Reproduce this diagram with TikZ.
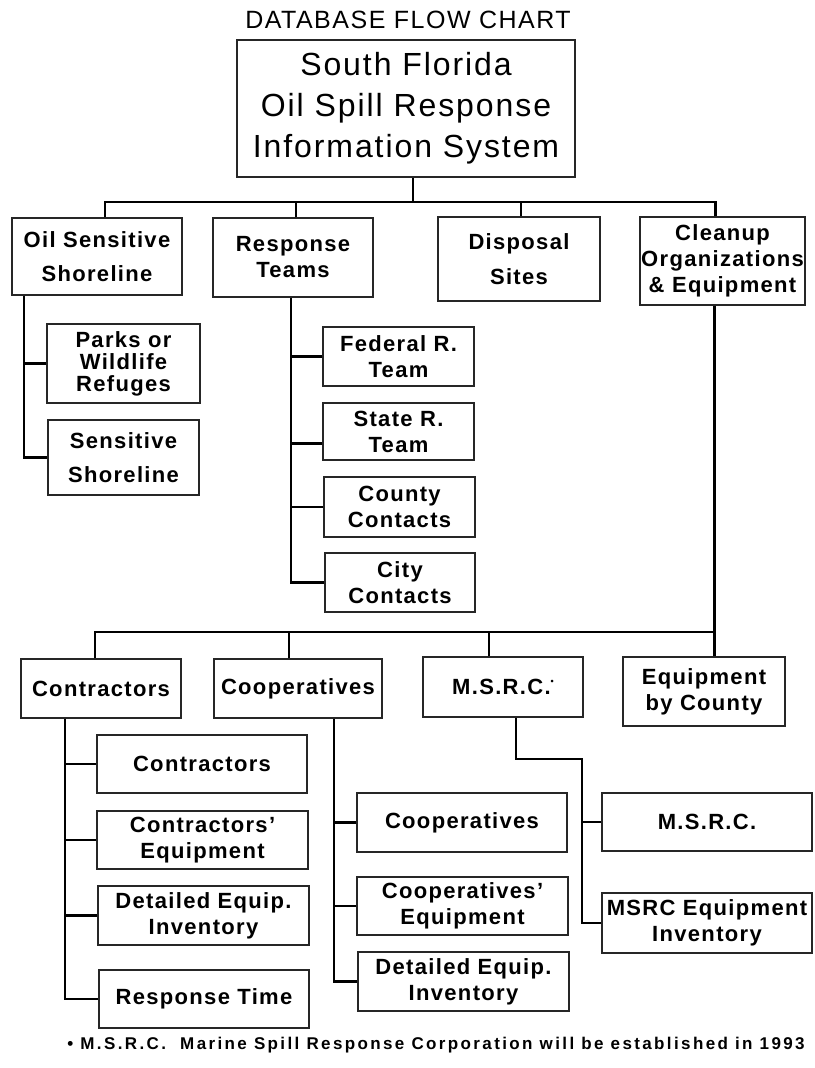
\documentclass[tikz,border=0pt]{standalone}
\usepackage{fontspec}
\setmainfont{Liberation Sans}[LetterSpace=6]
\usetikzlibrary{calc}

\begin{document}
\begin{tikzpicture}[x=1pt,y=-1pt,
	box/.style={draw=black!85,line width=1.3pt,align=center,inner sep=0pt,font=\fontsize{22}{26}\selectfont\bfseries},
	link/.style={line width=2.8pt,black}]
		\useasboundingbox (0,0) rectangle (814,1068);
		\node[font=\fontsize{25}{28}\selectfont] (title) at (408,20) {DATABASE FLOW CHART};
		\node[box,font=\fontsize{32}{41}\selectfont,minimum width=338pt,minimum height=137pt] (sfo) at (406,108.5) {South Florida\\Oil Spill Response\\Information System};

		\node[box,minimum width=170pt,minimum height=77pt] (oil) at (97,256.5) {Oil Sensitive\\[8pt]Shoreline};
		\node[box,minimum width=160pt,minimum height=79pt] (resp) at (293,257.5) {Response\\Teams};
		\node[box,minimum width=162pt,minimum height=84pt] (disp) at (519,259) {Disposal\\[9pt]Sites};
		\node[box,minimum width=165pt,minimum height=88pt] (clean) at (722.5,261) {Cleanup\\Organizations\\\& Equipment};

		\node[box,minimum width=153pt,minimum height=79pt] (parks) at (123.5,363.5) {Parks or\\[-4pt]Wildlife\\[-4pt]Refuges};
		\node[box,minimum width=151pt,minimum height=75pt] (sshore) at (123.5,457.5) {Sensitive\\[8pt]Shoreline};
		\node[box,minimum width=151pt,minimum height=59pt] (fed) at (398.5,356.5) {Federal R.\\Team};
		\node[box,minimum width=151pt,minimum height=57pt] (state) at (398.5,431.5) {State R.\\Team};
		\node[box,minimum width=151pt,minimum height=60pt] (county) at (399.5,507) {County\\Contacts};
		\node[box,minimum width=150pt,minimum height=59pt] (city) at (400,582.5) {City\\Contacts};

		\node[box,minimum width=160pt,minimum height=59pt] (ctr) at (101,688.5) {Contractors};
		\node[box,minimum width=168pt,minimum height=59pt] (coop) at (298,688.5) {Cooperatives};
		\node[box,minimum width=160pt,minimum height=60pt] (msrc) at (503,687) {M.S.R.C.\raisebox{10pt}{\fontsize{9}{9}\selectfont •}};
		\node[box,minimum width=162pt,minimum height=69pt] (eqc) at (704,691.5) {Equipment\\by County};

		\node[box,minimum width=210pt,minimum height=58pt] (ctr1) at (202,764) {Contractors};
		\node[box,minimum width=211pt,minimum height=58pt] (ctr2) at (202.5,840) {Contractors'\\Equipment};
		\node[box,minimum width=211pt,minimum height=59pt] (ctr3) at (203.5,915.5) {Detailed Equip.\\Inventory};
		\node[box,minimum width=210pt,minimum height=58pt] (ctr4) at (204,999) {Response Time};
		\node[box,minimum width=210pt,minimum height=59pt] (coop1) at (462,822.5) {Cooperatives};
		\node[box,minimum width=211pt,minimum height=58pt] (coop2) at (462.5,906) {Cooperatives'\\Equipment};
		\node[box,minimum width=211pt,minimum height=59pt] (coop3) at (463.5,981.5) {Detailed Equip.\\Inventory};
		\node[box,minimum width=210pt,minimum height=58pt] (msrc1) at (707,822) {M.S.R.C.};
		\node[box,minimum width=210pt,minimum height=60pt] (msrc2) at (707,923) {MSRC Equipment\\Inventory};

		\node[font=\fontsize{17}{19}\selectfont\bfseries\addfontfeatures{LetterSpace=14}] (note) at (436,1045) {• M.S.R.C.\ \ Marine Spill Response Corporation will be established in 1993};

		\coordinate (busA) at (0,202);
		\coordinate (busB) at (0,632);
		\coordinate (oilT) at ([xshift=-73pt]oil.south);
		\coordinate (respT) at ([xshift=-2pt]resp.south);
		\coordinate (cleanT) at ([xshift=-8pt]clean.south);
		\coordinate (ctrT) at ([xshift=-36pt]ctr.south);
		\coordinate (coopT) at ([xshift=36pt]coop.south);
		\coordinate (msrcT) at ([xshift=13pt]msrc.south);
		\coordinate (msrcJ) at (582,759);

		\draw[link] ([xshift=7pt]sfo.south) -- ([xshift=7pt]sfo.south |- busA);
		\draw[link] ([xshift=8pt]oil.north) |- ([xshift=-7pt]clean.north |- busA) -- ([xshift=-7pt]clean.north);
		\draw[link] ([xshift=3pt]resp.north) -- ([xshift=3pt]resp.north |- busA);
		\draw[link] ([xshift=2pt]disp.north) -- ([xshift=2pt]disp.north |- busA);

		\draw[link] (oilT) |- (sshore.west);
		\draw[link] (parks.west) -- (parks.west -| oilT);
		\draw[link] (respT) |- (city.west);
		\draw[link] (fed.west) -- (fed.west -| respT);
		\draw[link] ([yshift=-12pt]state.west) -- ([yshift=-12pt]state.west -| respT);
		\draw[link] (county.west) -- (county.west -| respT);

		\draw[link] (cleanT) -- (cleanT |- eqc.north);
		\draw[link] ([xshift=-6pt]ctr.north) |- (cleanT |- busB);
		\draw[link] ([xshift=-9pt]coop.north) -- ([xshift=-9pt]coop.north |- busB);
		\draw[link] ([xshift=-14pt]msrc.north) -- ([xshift=-14pt]msrc.north |- busB);

		\draw[link] (ctrT) |- (ctr4.west);
		\draw[link] (ctr1.west) -- (ctr1.west -| ctrT);
		\draw[link] (ctr2.west) -- (ctr2.west -| ctrT);
		\draw[link] (ctr3.west) -- (ctr3.west -| ctrT);
		\draw[link] (coopT) |- (coop3.west);
		\draw[link] (coop1.west) -- (coop1.west -| coopT);
		\draw[link] (coop2.west) -- (coop2.west -| coopT);
		\draw[link] (msrcT) |- (msrcJ) |- (msrc2.west);
		\draw[link] (msrc1.west) -- (msrc1.west -| msrcJ);
\end{tikzpicture}
\end{document}
